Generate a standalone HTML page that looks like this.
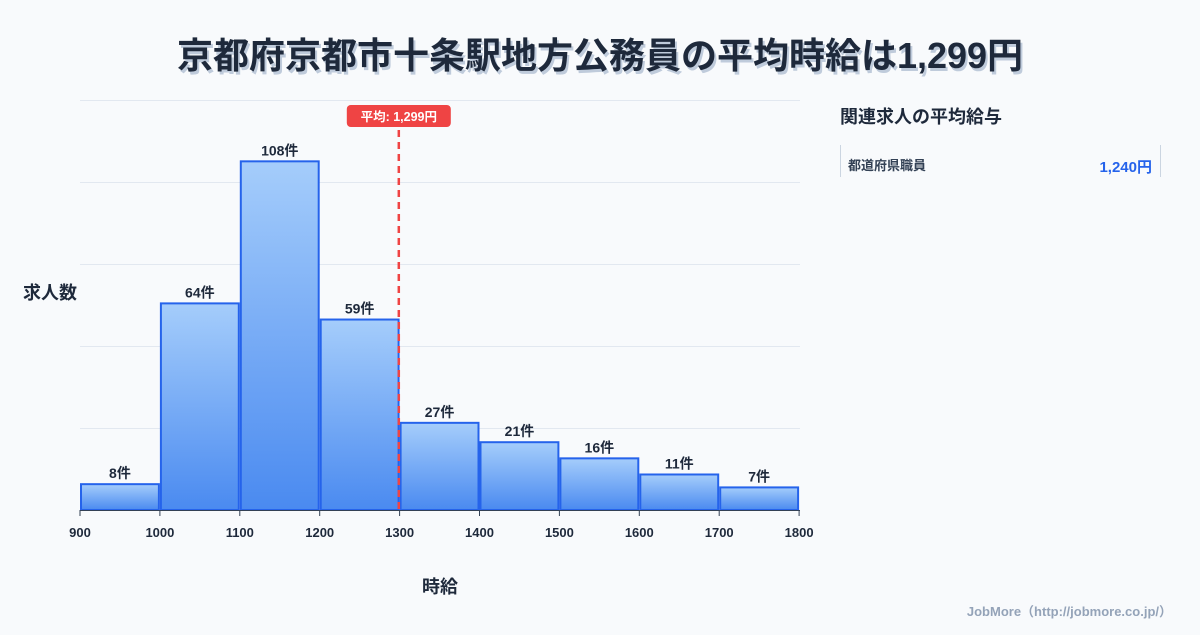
<!DOCTYPE html>
<html><head><meta charset="utf-8"><style>
body{margin:0;width:1200px;height:630px;background:#f8fafc;font-family:"Liberation Sans","Noto Sans CJK JP",sans-serif;overflow:hidden}
</style></head><body>
<svg width="1200" height="630" xmlns="http://www.w3.org/2000/svg">
<defs><linearGradient id="g" x1="0" y1="0" x2="0" y2="1"><stop offset="0" stop-color="#a5cdfb"/><stop offset="1" stop-color="#4a8af0"/></linearGradient></defs>
<text x="600" y="68" text-anchor="middle" font-size="36" font-weight="bold" fill="#1e293b" style="text-shadow:2px 3px 0 #bfcbdb" font-family="Liberation Sans,Noto Sans CJK JP,sans-serif">京都府京都市十条駅地方公務員の平均時給は1,299円</text>
<g id="grid"></g>
<g id="bars"></g>
<g id="xt"></g>
<line id="avg" y1="130" y2="510" stroke="#ef4444" stroke-width="2.5" stroke-dasharray="7,5"/>
<rect id="avgbox" y="105" width="104" height="22" rx="4" fill="#ef4444"/>
<text id="avgtxt" y="121" text-anchor="middle" font-size="12.5" font-weight="bold" fill="#fff" font-family="Liberation Sans,Noto Sans CJK JP,sans-serif">平均: 1,299円</text>
<text x="50" y="299" text-anchor="middle" font-size="18" font-weight="bold" fill="#1e293b" font-family="Liberation Sans,Noto Sans CJK JP,sans-serif">求人数</text>
<text x="440" y="593" text-anchor="middle" font-size="18" font-weight="bold" fill="#1e293b" font-family="Liberation Sans,Noto Sans CJK JP,sans-serif">時給</text>
<text x="840" y="123" font-size="18" font-weight="bold" fill="#1e293b" font-family="Liberation Sans,Noto Sans CJK JP,sans-serif">関連求人の平均給与</text>
<line x1="840.5" y1="145" x2="840.5" y2="177" stroke="#cbd5e1"/>
<line x1="1160.5" y1="145" x2="1160.5" y2="177" stroke="#cbd5e1"/>
<text x="848" y="170" font-size="13" font-weight="bold" fill="#334155" font-family="Liberation Sans,Noto Sans CJK JP,sans-serif">都道府県職員</text>
<text x="1152" y="172" text-anchor="end" font-size="15" font-weight="bold" fill="#2563eb" font-family="Liberation Sans,Noto Sans CJK JP,sans-serif">1,240円</text>
<text x="1172" y="616" text-anchor="end" font-size="13" font-weight="bold" fill="#94a3b8" font-family="Liberation Sans,Noto Sans CJK JP,sans-serif">JobMore（http://jobmore.co.jp/）</text>
</svg>
<script>
const binStarts=[900,1000,1100,1200,1300,1400,1500,1600,1700];
const counts=[8,64,108,59,27,21,16,11,7];
const xTicks=[900,1000,1100,1200,1300,1400,1500,1600,1700,1800];
const average=1299;
const yMax=127;
const NS='http://www.w3.org/2000/svg';
const X=v=>80+(v-900)*0.799, Y=v=>510-v*410/yMax;
function mk(t,a,p){const e=document.createElementNS(NS,t);for(const k in a)e.setAttribute(k,a[k]);p.appendChild(e);return e;}
const grid=document.getElementById('grid');
for(let i=0;i<=5;i++){const y=Math.round(100+i*82)+0.5;
const l=mk('line',{x1:80,x2:800,y1:y,y2:y,stroke:'#e2e8f0'},grid);

}
const bars=document.getElementById('bars');
binStarts.forEach((b,i)=>{const x0=X(b)+1,x1=X(b+100)-1,y=Y(counts[i]);
const r=mk('rect',{x:x0,y:y,width:x1-x0,height:510-y,fill:'url(#g)',stroke:'#2563eb','stroke-width':2},bars);


const t=mk('text',{x:(x0+x1)/2,y:y-6,'text-anchor':'middle','font-size':14,'font-weight':'bold',fill:'#1e293b'},bars);
t.textContent=counts[i]+'件';

});
const xt=document.getElementById('xt');
mk('line',{x1:80,x2:800,y1:510.5,y2:510.5,stroke:'#334155'},xt);
xTicks.forEach(v=>{const x=X(v);
mk('line',{x1:x,x2:x,y1:510,y2:516,stroke:'#334155'},xt);
const t=mk('text',{x:x,y:537,'text-anchor':'middle','font-size':13,'font-weight':'bold',fill:'#1e293b'},xt);
t.textContent=v;

});
const ax=X(average);
const al=document.getElementById('avg');al.setAttribute('x1',ax);al.setAttribute('x2',ax);
document.getElementById('avgbox').setAttribute('x',ax-52);
document.getElementById('avgtxt').setAttribute('x',ax);
</script>
</body></html>
